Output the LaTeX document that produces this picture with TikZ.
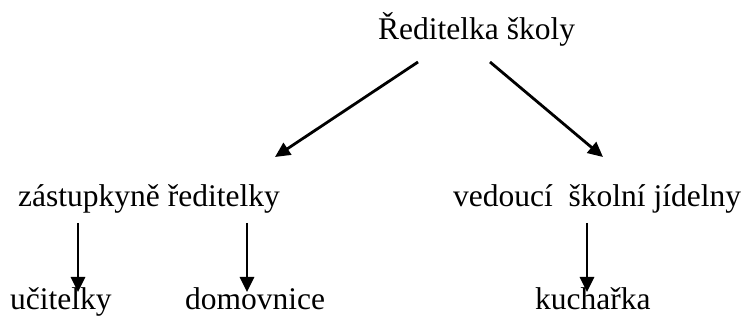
\documentclass[tikz,border=0pt]{standalone}
\usepackage{fontspec}
\setmainfont{Liberation Serif}
\usetikzlibrary{arrows.meta}
\begin{document}
\begin{tikzpicture}[x=1pt,y=-1pt,
  lbl/.style={anchor=base west,inner sep=0pt,font=\fontsize{31.5}{37}\selectfont},
  arr/.style={line width=2.8pt,-{Triangle[length=15pt,width=14pt]}}]
\useasboundingbox (0,0) rectangle (747,320);
\node[lbl] (red) at (378,40) {Ředitelka školy};
\node[lbl] (zast) at (18,207) {zástupkyně ředitelky};
\node[lbl] (ved) at (453,207) {vedoucí\ \ školní jídelny};
\node[lbl] (uci) at (10,310) {učitelky};
\node[lbl] (dom) at (185,310) {domovnice};
\node[lbl] (kuch) at (535,310) {kuchařka};
\coordinate (a1s) at (418,62);
\coordinate (a1e) at (275,157);
\coordinate (a2s) at (490,62);
\coordinate (a2e) at (603,157);
\coordinate (a3s) at (78,223);
\coordinate (a3e) at (78,292);
\coordinate (a4s) at (247,223);
\coordinate (a4e) at (247,292);
\coordinate (a5s) at (587,223);
\coordinate (a5e) at (587,292);
\draw[arr] (a1s) -- (a1e);
\draw[arr] (a2s) -- (a2e);
\draw[arr] (a3s) -- (a3e);
\draw[arr] (a4s) -- (a4e);
\draw[arr] (a5s) -- (a5e);
\end{tikzpicture}
\end{document}
